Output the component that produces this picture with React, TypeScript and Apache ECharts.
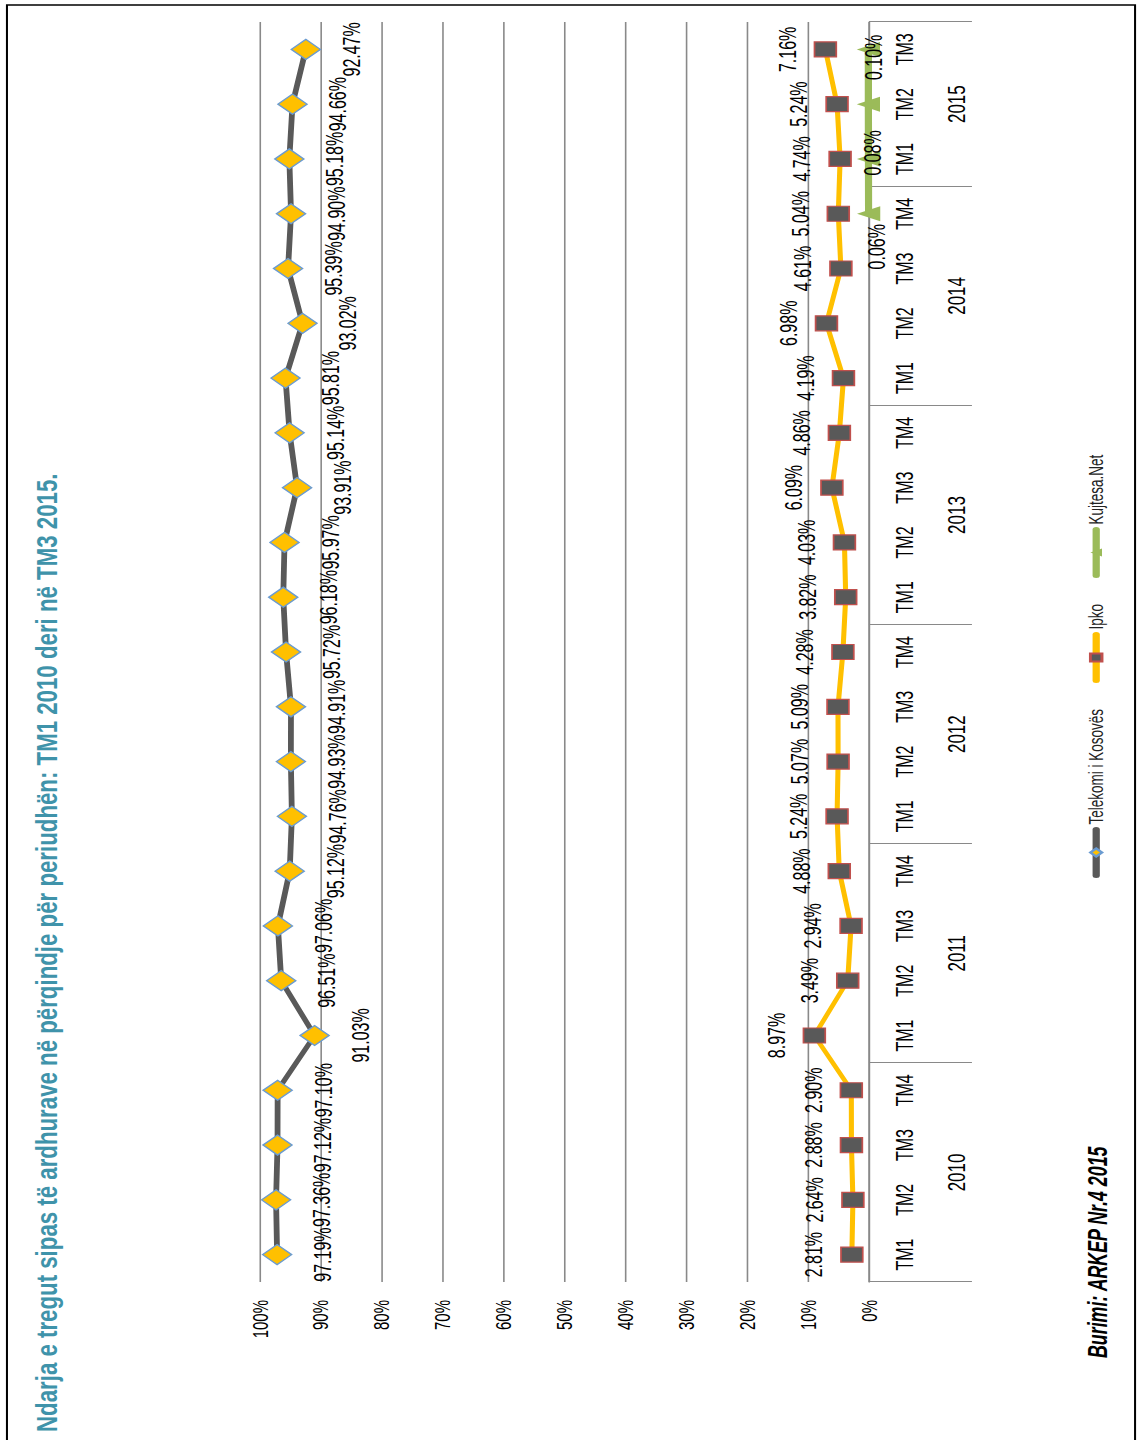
import React, { useEffect, useRef } from "react";
import * as echarts from "echarts";

const quarterLabels = [
  "TM1", "TM2", "TM3", "TM4",
  "TM1", "TM2", "TM3", "TM4",
  "TM1", "TM2", "TM3", "TM4",
  "TM1", "TM2", "TM3", "TM4",
  "TM1", "TM2", "TM3", "TM4",
  "TM1", "TM2", "TM3",
];
const yearLabels = [
  "2010", "2010", "2010", "2010",
  "2011", "2011", "2011", "2011",
  "2012", "2012", "2012", "2012",
  "2013", "2013", "2013", "2013",
  "2014", "2014", "2014", "2014",
  "2015", "2015", "2015",
];
const telekom = [
  97.19, 97.36, 97.12, 97.1,
  91.03, 96.51, 97.06, 95.12,
  94.76, 94.93, 94.91, 95.72,
  96.18, 95.97, 93.91, 95.14,
  95.81, 93.02, 95.39, 94.9,
  95.18, 94.66, 92.47,
];
const ipko = [
  2.81, 2.64, 2.88, 2.9,
  8.97, 3.49, 2.94, 4.88,
  5.24, 5.07, 5.09, 4.28,
  3.82, 4.03, 6.09, 4.86,
  4.19, 6.98, 4.61, 5.04,
  4.74, 5.24, 7.16,
];
const kujtesa: (number | null)[] = [
  null, null, null, null,
  null, null, null, null,
  null, null, null, null,
  null, null, null, null,
  null, null, null, 0.06,
  0.08, 0.1, 0.1,
];
const kujtesaLabelShown = [19, 20, 22];
const seriesNames = ["Telekomi i Kosovës", "Ipko", "Kujtesa.Net"];
const valueTicks = { min: 0, max: 100, interval: 10 };
const titleText = "Ndarja e tregut sipas të ardhurave në përqindje për periudhën: TM1 2010 deri në TM3 2015.";
const sourceText = "Burimi: ARKEP Nr.4 2015";

const FONT = "'Liberation Sans', Arial, sans-serif";
const STRETCH = 1.45;

function textWidth(text: string, font: string): number {
  const c = document.createElement("canvas").getContext("2d");
  if (!c) return 0;
  c.font = font;
  return c.measureText(text).width;
}

export default function App() {
  const ref = useRef<HTMLDivElement>(null);

  useEffect(() => {
    if (!ref.current) return;
    const chart = echarts.init(ref.current, undefined, { renderer: "svg" });

    // year group boundaries and centers derived from the category lists
    const bounds: number[] = [0];
    for (let i = 1; i < yearLabels.length; i++) {
      if (yearLabels[i] !== yearLabels[i - 1]) bounds.push(i);
    }
    bounds.push(yearLabels.length);
    const centers: number[] = [];
    const centerYear: Record<string, string> = {};
    for (let i = 0; i < bounds.length - 1; i++) {
      const c = (bounds[i] + bounds[i + 1]) / 2;
      centers.push(c);
      centerYear[String(c)] = yearLabels[bounds[i]];
    }

    const pct = (v: number) => v.toFixed(2) + "%";

    const kujData = kujtesa.map((v, i) => {
      if (v === null) return null;
      const shown = kujtesaLabelShown.includes(i);
      let offset = [0, 4];
      if (i === 19) offset = [-33, 6];
      if (i === 20) offset = [6, 3];
      if (i === 22) offset = [-8, 3.5];
      return { value: v, label: { show: shown, offset } };
    });

    const titleFont = `bold 20px ${FONT}`;
    const tw = textWidth(titleText, titleFont);
    const titleScale = tw > 0 ? 959 / tw : 1;
    const srcFont = `italic bold 19px ${FONT}`;
    const sw = textWidth(sourceText, srcFont);
    const srcScale = sw > 0 ? 213 / sw : 1;

    chart.setOption({
      animation: false,
      backgroundColor: "#ffffff",
      textStyle: { fontFamily: FONT },
      legend: {
        data: seriesNames,
        left: 562,
        top: 749,
        padding: 0,
        itemWidth: 46,
        itemHeight: 10,
        itemGap: 26,
        textStyle: { fontSize: 13.5, color: "#222", fontFamily: FONT },
        lineStyle: { width: 5 },
      },
      grid: { left: 158, top: 179.3, width: 1260, height: 420 },
      xAxis: [
        {
          type: "category",
          data: quarterLabels,
          position: "bottom",
          boundaryGap: true,
          axisLine: { show: true, lineStyle: { color: "#898989", width: 1.2 } },
          axisTick: { show: false },
          axisLabel: { interval: 0, margin: 17, fontSize: 16, color: "#000", fontFamily: FONT },
          splitLine: { show: false },
        },
        {
          type: "value",
          min: 0,
          max: quarterLabels.length,
          position: "bottom",
          axisLine: { show: false },
          splitLine: { show: false },
          axisTick: {
            show: true,
            customValues: bounds,
            length: 71,
            lineStyle: { color: "#898989", width: 1.2 },
          },
          axisLabel: {
            customValues: centers,
            formatter: (v: number) => centerYear[String(v)] || "",
            margin: 52,
            fontSize: 17,
            color: "#000",
            fontFamily: FONT,
          },
        },
      ],
      yAxis: {
        type: "value",
        min: valueTicks.min,
        max: valueTicks.max,
        interval: valueTicks.interval,
        axisLine: { show: false },
        axisTick: { show: false },
        splitLine: { lineStyle: { color: "#898989", width: 1.1 } },
        axisLabel: { formatter: "{value}%", margin: 18, fontSize: 15, color: "#000", fontFamily: FONT },
      },
      series: [
        {
          name: seriesNames[0],
          type: "line",
          data: telekom,
          symbol: "diamond",
          symbolSize: 20,
          lineStyle: { color: "#595959", width: 4, cap: "round", join: "round" },
          itemStyle: { color: "#FFC000", borderColor: "#6A9BD1", borderWidth: 1.2 },
          label: {
            show: true,
            position: "bottom",
            distance: 13,
            formatter: (p: any) => pct(p.value),
            fontSize: 16,
            color: "#000",
            fontFamily: FONT,
          },
          z: 3,
        },
        {
          name: seriesNames[1],
          type: "line",
          data: ipko,
          symbol: "rect",
          symbolSize: 15,
          lineStyle: { color: "#FFC000", width: 3.5, cap: "round", join: "round" },
          itemStyle: { color: "#595959", borderColor: "#C0504D", borderWidth: 1.2 },
          label: {
            show: true,
            position: "top",
            distance: 10,
            formatter: (p: any) => pct(p.value),
            fontSize: 16,
            color: "#000",
            fontFamily: FONT,
          },
          z: 3,
        },
        {
          name: seriesNames[2],
          type: "line",
          data: kujData,
          symbol: "triangle",
          symbolSize: [15, 16],
          lineStyle: { color: "#9BBB59", width: 5, cap: "round", join: "round" },
          itemStyle: { color: "#9BBB59" },
          label: {
            position: "inside",
            formatter: (p: any) => pct(p.value),
            fontSize: 16,
            color: "#000",
            fontFamily: FONT,
          },
          z: 4,
        },
      ],
      graphic: [
        {
          type: "rect",
          shape: { x: -10, y: 4.8, width: 1445, height: 778 },
          style: { fill: "none", stroke: "#000", lineWidth: 1.4 },
          silent: true,
        },
        {
          type: "text",
          x: 8,
          y: 22,
          scaleX: titleScale,
          style: {
            text: titleText,
            font: titleFont,
            fill: "#3F93AA",
            verticalAlign: "top",
            align: "left",
          },
        },
        {
          type: "text",
          x: 82,
          y: 757,
          scaleX: srcScale,
          style: {
            text: sourceText,
            font: srcFont,
            fill: "#000",
            verticalAlign: "middle",
            align: "left",
          },
        },
      ],
    });

    return () => chart.dispose();
  }, []);

  return (
    <div
      style={{
        position: "fixed",
        left: 0,
        top: 0,
        width: 1139,
        height: 1440,
        overflow: "hidden",
        background: "#fff",
      }}
    >
      <div
        ref={ref}
        style={{
          position: "absolute",
          left: 0,
          top: 0,
          width: 1440,
          height: 786,
          transformOrigin: "0 0",
          transform: `translateY(1440px) rotate(-90deg) scaleY(${STRETCH})`,
        }}
      />
    </div>
  );
}
